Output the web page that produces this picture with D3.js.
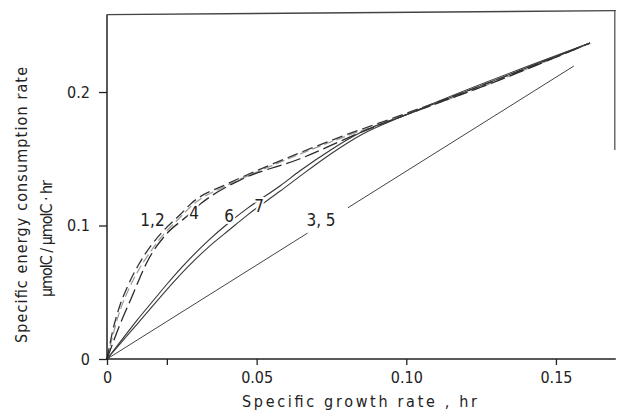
<!DOCTYPE html>
<html>
<head>
<meta charset="utf-8">
<script src="https://cdn.jsdelivr.net/npm/d3@7"></script>
<style>
  html, body { margin: 0; padding: 0; background: #fff; }
  svg { display: block; }
  text { font-family: "DejaVu Sans Condensed", "DejaVu Sans", sans-serif; fill: #222; }
</style>
</head>
<body>
<svg id="chart" width="617" height="413"></svg>
<script>
// Specific growth rate (1/hr) and specific energy consumption rate for each model
const growth1 = [0, 0.002, 0.004, 0.007, 0.0104, 0.0144, 0.0184, 0.0244, 0.0284, 0.040, 0.050, 0.065, 0.080, 0.100, 0.130, 0.1614];
const energy1 = [0, 0.022, 0.038, 0.055, 0.070, 0.084, 0.095, 0.108, 0.117, 0.131, 0.141, 0.155, 0.168, 0.184, 0.209, 0.2367];

const growth2 = [0, 0.002, 0.004, 0.007, 0.0104, 0.0144, 0.0184, 0.0244, 0.0284, 0.040, 0.050, 0.065, 0.080, 0.100, 0.130, 0.1614];
const energy2 = [0, 0.018, 0.034, 0.051, 0.066, 0.080, 0.092, 0.106, 0.115, 0.130, 0.140, 0.154, 0.167, 0.183, 0.208, 0.2367];

const growth4 = [0, 0.004, 0.008, 0.0137, 0.020, 0.026, 0.0317, 0.0444, 0.0645, 0.085, 0.100, 0.130, 0.1614];
const energy4 = [0, 0.024, 0.045, 0.074, 0.094, 0.1056, 0.117, 0.134, 0.150, 0.170, 0.183, 0.208, 0.2367];

const growth6 = [0, 0.005, 0.010, 0.015, 0.020, 0.027, 0.034, 0.041, 0.047, 0.058, 0.0645, 0.075, 0.085, 0.100, 0.1614];
const energy6 = [0, 0.0145, 0.029, 0.0425, 0.056, 0.0735, 0.089, 0.1026, 0.113, 0.130, 0.141, 0.157, 0.170, 0.183, 0.2367];

const growth7 = [0, 0.005, 0.010, 0.015, 0.020, 0.027, 0.034, 0.041, 0.047, 0.058, 0.0645, 0.075, 0.085, 0.100, 0.1614];
const energy7 = [0, 0.013, 0.026, 0.039, 0.052, 0.069, 0.084, 0.097, 0.108, 0.126, 0.137, 0.154, 0.168, 0.183, 0.2367];

// Models 3 and 5 coincide: a straight line
const growth35 = [0, 0.067, 0.0805, 0.156];
const energy35 = [0, 0.0943, 0.1133, 0.2195];

// Curve labels and where they sit (growth, energy)
const curveLabels = ["1,2", "4", "6", "7", "3, 5"];
const labelGrowth = [0.0152, 0.0291, 0.0408, 0.0508, 0.0715];
const labelEnergy = [0.1041, 0.1094, 0.1071, 0.1146, 0.1041];

// Axis ticks
const xTicks = [0, 0.05, 0.10, 0.15];
const xTickLabels = ["0", "0.05", "0.10", "0.15"];
const xMinorTicks = [0.02];
const yTicks = [0, 0.1, 0.2];
const yTickLabels = ["0", "0.1", "0.2"];

const svg = d3.select("#chart");

const x = d3.scaleLinear().domain([0, 0.17]).range([107, 615.8]);
const y = d3.scaleLinear().domain([0, 0.258]).range([359, 14.6]);

const zip = (xs, ys) => xs.map((v, i) => [v, ys[i]]);
const line = d3.line().x(d => x(d[0])).y(d => y(d[1])).curve(d3.curveMonotoneX);

const curves = [
  { pts: zip(growth2, energy2), color: "#9a9a9a", width: 1.2, dash: "9,4" },
  { pts: zip(growth1, energy1), color: "#333", width: 1.3, dash: "11,5" },
  { pts: zip(growth4, energy4), color: "#2a2a2a", width: 1.3, dash: "15,5" },
  { pts: zip(growth6, energy6), color: "#333", width: 1.1, dash: null },
  { pts: zip(growth7, energy7), color: "#3a3a3a", width: 1.1, dash: null }
];

const g = svg.append("g");

curves.forEach(c => {
  g.append("path")
    .attr("d", line(c.pts))
    .attr("fill", "none")
    .attr("stroke", c.color)
    .attr("stroke-width", c.width)
    .attr("stroke-dasharray", c.dash);
});

// Straight line 3,5, broken where its label sits
const seg35 = zip(growth35, energy35);
[[seg35[0], seg35[1]], [seg35[2], seg35[3]]].forEach(s => {
  g.append("path")
    .attr("d", d3.line().x(d => x(d[0])).y(d => y(d[1]))(s))
    .attr("fill", "none")
    .attr("stroke", "#444")
    .attr("stroke-width", 1.0);
});

// Curve labels with a white halo that breaks the lines beneath
curveLabels.forEach((t, i) => {
  g.append("text")
    .attr("x", x(labelGrowth[i]))
    .attr("y", y(labelEnergy[i]))
    .attr("dy", "0.36em")
    .attr("text-anchor", "middle")
    .attr("font-size", 17)
    .attr("stroke", "#fff")
    .attr("stroke-width", 4)
    .attr("paint-order", "stroke")
    .text(t);
});

// Frame: left and bottom axes, top edge, partial right edge
const axisColor = "#222";
svg.append("line").attr("x1", x(0)).attr("x2", x(0)).attr("y1", y(0.258)).attr("y2", y(0))
  .attr("stroke", axisColor).attr("stroke-width", 1.5);
svg.append("line").attr("x1", x(0)).attr("x2", x(0.17)).attr("y1", y(0)).attr("y2", y(0))
  .attr("stroke", axisColor).attr("stroke-width", 1.5);
svg.append("line").attr("x1", x(0)).attr("x2", x(0.17)).attr("y1", y(0.258)).attr("y2", y(0.258) - 4)
  .attr("stroke", "#444").attr("stroke-width", 1.4);
svg.append("line").attr("x1", x(0.17) - 1).attr("x2", x(0.17) - 1).attr("y1", y(0.258) - 4).attr("y2", 150)
  .attr("stroke", "#555").attr("stroke-width", 1.3);

// Y ticks and labels
const yAxis = d3.axisLeft(y).tickValues(yTicks).tickSize(8)
  .tickFormat((d, i) => yTickLabels[i]);
const ya = svg.append("g").attr("transform", `translate(${x(0)},0)`).call(yAxis);
ya.select(".domain").remove();
ya.selectAll(".tick line").attr("stroke", axisColor).attr("stroke-width", 1.3);
ya.selectAll(".tick text").attr("font-size", 16).attr("fill", "#222")
  .attr("font-family", "DejaVu Sans Condensed, DejaVu Sans, sans-serif").attr("x", -17);

// X ticks and labels
const xAxis = d3.axisBottom(x).tickValues(xTicks).tickSize(6)
  .tickFormat((d, i) => xTickLabels[i]);
const xa = svg.append("g").attr("transform", `translate(0,${y(0)})`).call(xAxis);
xa.select(".domain").remove();
xa.selectAll(".tick line").attr("stroke", axisColor).attr("stroke-width", 1.3);
xa.selectAll(".tick text").attr("font-size", 16).attr("fill", "#222")
  .attr("font-family", "DejaVu Sans Condensed, DejaVu Sans, sans-serif")
  .attr("y", 24).attr("dy", 0);

const xm = svg.append("g").attr("transform", `translate(0,${y(0)})`)
  .call(d3.axisBottom(x).tickValues(xMinorTicks).tickSize(6).tickFormat(""));
xm.select(".domain").remove();
xm.selectAll(".tick line").attr("stroke", axisColor).attr("stroke-width", 1.3);

// Axis titles
svg.append("text")
  .attr("x", 242).attr("y", 407)
  .attr("font-size", 16)
  .attr("textLength", 235)
  .attr("lengthAdjust", "spacing")
  .text("Specific growth rate , hr");

svg.append("text")
  .attr("transform", "translate(27,343) rotate(-90)")
  .attr("font-size", 16)
  .attr("fill", "#333")
  .attr("textLength", 276)
  .attr("lengthAdjust", "spacing")
  .text("Specific energy consumption rate");

svg.append("text")
  .attr("transform", "translate(52,297) rotate(-90)")
  .attr("font-size", 16)
  .attr("fill", "#333")
  .attr("textLength", 117)
  .attr("lengthAdjust", "spacing")
  .text("μmolC / μmolC · hr");
</script>
</body>
</html>
